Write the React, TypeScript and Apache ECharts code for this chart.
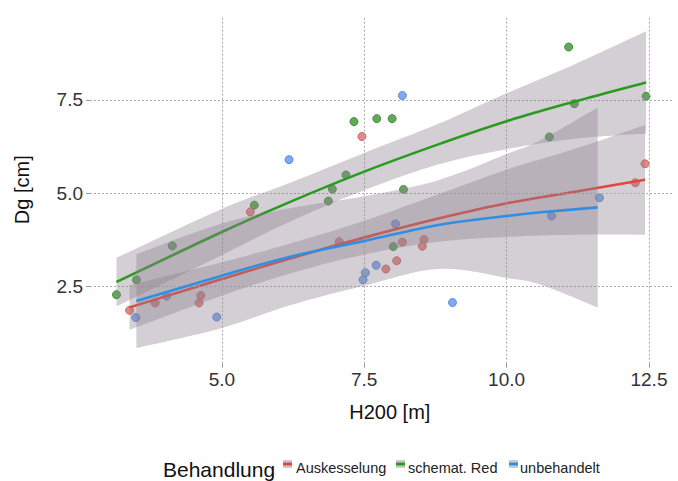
import React, { useEffect, useRef } from "react";
import * as echarts from "echarts";

// ---- axis ticks ----
const xTicks = [5, 7.5, 10, 12.5];
const yTicks = [2.5, 5, 7.5];

// ---- groups ----
const groupNames = ["Auskesselung", "schemat. Red", "unbehandelt"];
const lineColors = ["#e0483f", "#2c9a20", "#2f8fe3"];
const pointFill = ["#e3827d", "#5aa450", "#7aa5ec"];
const pointEdge = ["#d0605a", "#3f8a36", "#5585d8"];

// ---- observed points [H200, Dg] ----
const redPoints = [
  [3.38, 1.86], [3.83, 2.06], [4.63, 2.26], [4.6, 2.06], [5.5, 4.5], [7.46, 6.52], [7.06, 3.7],
  [7.88, 2.97], [8.07, 3.19], [8.17, 3.69], [8.55, 3.76], [8.52, 3.58], [12.26, 5.28], [12.43, 5.79],
];
const greenPoints = [
  [3.15, 2.28], [3.5, 2.68], [4.13, 3.59], [5.57, 4.68], [6.94, 5.11], [6.87, 4.79], [7.18, 5.49],
  [7.32, 6.92], [7.72, 7.0], [7.99, 7.0], [8.19, 5.1], [8.01, 3.57], [10.75, 6.51], [11.09, 8.92],
  [11.19, 7.4], [12.45, 7.6],
];
const bluePoints = [
  [3.49, 1.67], [4.03, 2.24], [4.91, 1.68], [6.18, 5.9], [7.48, 2.68], [7.52, 2.87], [7.71, 3.07],
  [8.05, 4.18], [8.17, 7.62], [9.05, 2.07], [10.79, 4.39], [11.63, 4.88],
];

// ---- smoothed fits with confidence bands ----
const redFitX = [3.38, 5.0, 6.2, 7.5, 8.8, 10.0, 11.2, 12.43];
const redFit = [1.94, 2.7, 3.25, 3.81, 4.32, 4.73, 5.04, 5.36];
const redLower = [1.34, 2.25, 2.85, 3.36, 3.7, 3.83, 3.89, 3.89];
const redUpper = [2.54, 3.15, 3.65, 4.26, 4.97, 5.63, 6.19, 6.83];

const greenFitX = [3.15, 5.0, 6.2, 7.5, 8.8, 10.0, 11.2, 12.45];
const greenFit = [2.62, 3.96, 4.77, 5.58, 6.31, 6.93, 7.46, 7.97];
const greenLower = [1.97, 3.34, 4.24, 5.08, 5.77, 6.18, 6.46, 6.6];
const greenUpper = [3.27, 4.58, 5.28, 6.08, 6.86, 7.68, 8.46, 9.34];

const blueFitX = [3.5, 5.0, 6.2, 7.5, 8.8, 10.0, 10.6, 11.6];
const blueFit = [2.11, 2.79, 3.3, 3.72, 4.15, 4.39, 4.49, 4.62];
const blueLower = [0.85, 1.39, 2.0, 2.52, 2.97, 2.73, 2.55, 1.94];
const blueUpper = [3.37, 4.19, 4.6, 4.92, 5.35, 6.05, 6.43, 7.3];

const FONT = "'Liberation Sans', Arial, Helvetica, sans-serif";
const BAND = "rgba(140,130,142,0.38)";

// Catmull-Rom through screen points -> cubic bezier path commands
function curveCmds(p: number[][], first: boolean): string {
  let d = first ? `M${p[0][0]},${p[0][1]}` : `L${p[0][0]},${p[0][1]}`;
  const t = 0.18;
  for (let i = 0; i < p.length - 1; i++) {
    const p0 = p[i - 1] || p[i];
    const p1 = p[i];
    const p2 = p[i + 1];
    const p3 = p[i + 2] || p[i + 1];
    const c1x = p1[0] + (p2[0] - p0[0]) * t;
    const c1y = p1[1] + (p2[1] - p0[1]) * t;
    const c2x = p2[0] - (p3[0] - p1[0]) * t;
    const c2y = p2[1] - (p3[1] - p1[1]) * t;
    d += ` C${c1x},${c1y} ${c2x},${c2y} ${p2[0]},${p2[1]}`;
  }
  return d;
}

function bandSeries(key: string, xs: number[], lo: number[], hi: number[], z: number) {
  return {
    type: "custom",
    name: key + "-band",
    data: [[xs[0], lo[0]]],
    silent: true,
    clip: true,
    z,
    renderItem: (_params: any, api: any) => {
      const up = xs.map((x, i) => api.coord([x, hi[i]]));
      const dn = xs.map((x, i) => api.coord([x, lo[i]])).reverse();
      const d = curveCmds(up, true) + " " + curveCmds(dn, false) + " Z";
      return {
        type: "path",
        shape: { pathData: d },
        style: { fill: BAND, stroke: "none" },
      };
    },
  };
}

function fitSeries(key: string, xs: number[], fit: number[], color: string, z: number) {
  return {
    type: "custom",
    name: key,
    data: [[xs[0], fit[0]]],
    silent: true,
    clip: true,
    z,
    renderItem: (_params: any, api: any) => {
      const pts = xs.map((x, i) => api.coord([x, fit[i]]));
      return {
        type: "path",
        shape: { pathData: curveCmds(pts, true) },
        style: { fill: "none", stroke: color, lineWidth: 2.6 },
      };
    },
  };
}

function scatter(name: string, pts: number[][], i: number, extra: any = {}) {
  return {
    type: "scatter",
    name,
    data: pts,
    symbolSize: 8,
    itemStyle: { color: pointFill[i], borderColor: pointEdge[i], borderWidth: 1, opacity: 0.95 },
    z: 2,
    ...extra,
  };
}

export default function App() {
  const ref = useRef<HTMLDivElement>(null);
  useEffect(() => {
    if (!ref.current) return;
    const chart = echarts.init(ref.current, undefined, { renderer: "svg" });

    const legendKeys: any[] = [];
    const keyX = [283, 396, 509];
    const labelX = [296, 408, 520];
    groupNames.forEach((g, i) => {
      legendKeys.push({
        type: "rect",
        shape: { x: keyX[i], y: 460, width: 9, height: 8 },
        style: { fill: "#cdc8cd" },
      });
      legendKeys.push({
        type: "rect",
        shape: { x: keyX[i], y: 462.5, width: 9, height: 3 },
        style: { fill: lineColors[i] },
      });
      legendKeys.push({
        type: "text",
        style: {
          x: labelX[i],
          y: 468.3,
          text: g,
          fontSize: 14.5,
          fontFamily: FONT,
          fill: "#222",
          verticalAlign: "middle",
        },
      });
    });

    const option: any = {
      animation: false,
      backgroundColor: "#ffffff",
      textStyle: { fontFamily: FONT },
      grid: { left: 90, right: 5.4, top: 15.7, bottom: 117.3, containLabel: false },
      xAxis: {
        type: "value",
        min: 2.685,
        max: 12.915,
        splitLine: { show: false },
        axisLine: { show: false },
        axisTick: { show: true, length: 4, customValues: xTicks, lineStyle: { color: "#999" } },
        axisLabel: {
          customValues: xTicks,
          formatter: (v: number) => v.toFixed(1),
          fontSize: 19,
          color: "#333",
          margin: 6,
          fontFamily: FONT,
        },
        name: "H200 [m]",
        nameLocation: "middle",
        nameGap: 38,
        nameTextStyle: { fontSize: 20, color: "#111", fontFamily: FONT, padding: [0, 0, 0, 17] },
      },
      yAxis: {
        type: "value",
        min: 0.43,
        max: 9.76,
        splitLine: { show: false },
        axisLine: { show: false },
        axisTick: { show: true, length: 4, customValues: yTicks, lineStyle: { color: "#999" } },
        axisLabel: {
          customValues: yTicks,
          formatter: (v: number) => v.toFixed(1),
          fontSize: 19,
          color: "#333",
          margin: 7,
          fontFamily: FONT,
        },
        name: "Dg [cm]",
        nameLocation: "middle",
        nameGap: 58,
        nameTextStyle: { fontSize: 20, color: "#111", fontFamily: FONT },
      },
      graphic: [
        {
          type: "text",
          style: {
            x: 163,
            y: 469.4,
            text: "Behandlung",
            fontSize: 21,
            fontFamily: FONT,
            fill: "#111",
            verticalAlign: "middle",
          },
        },
        ...legendKeys,
      ],
      series: [
        scatter(groupNames[0], redPoints, 0, {
          markLine: {
            silent: true,
            symbol: "none",
            label: { show: false },
            lineStyle: { color: "#aaaaaa", type: [2, 2], width: 1 },
            data: [...xTicks.map((v) => ({ xAxis: v })), ...yTicks.map((v) => ({ yAxis: v }))],
          },
        }),
        scatter(groupNames[1], greenPoints, 1),
        scatter(groupNames[2], bluePoints, 2),
        bandSeries("red", redFitX, redLower, redUpper, 3),
        fitSeries(groupNames[0], redFitX, redFit, lineColors[0], 4),
        bandSeries("green", greenFitX, greenLower, greenUpper, 5),
        fitSeries(groupNames[1], greenFitX, greenFit, lineColors[1], 6),
        bandSeries("blue", blueFitX, blueLower, blueUpper, 7),
        fitSeries(groupNames[2], blueFitX, blueFit, lineColors[2], 8),
      ],
    };
    chart.setOption(option);
    return () => chart.dispose();
  }, []);

  return (
    <div
      ref={ref}
      style={{ position: "fixed", left: 0, top: 0, width: 678, height: 481, background: "#fff" }}
    />
  );
}
